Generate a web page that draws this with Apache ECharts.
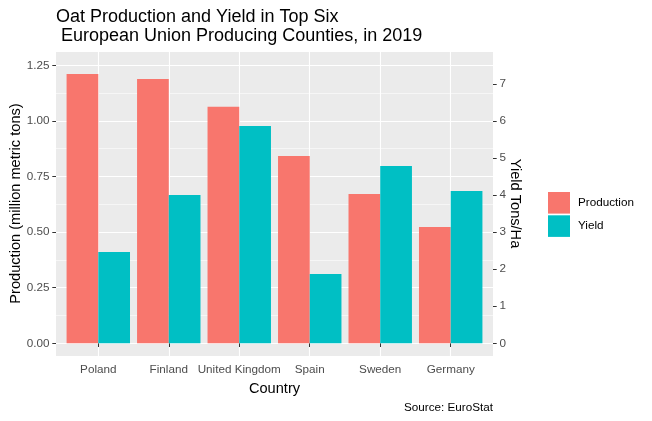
<!DOCTYPE html>
<html>
<head>
<meta charset="utf-8">
<script src="https://cdn.jsdelivr.net/npm/echarts@6/dist/echarts.min.js"></script>
<style>
html,body{margin:0;padding:0;background:#fff;}
#chart{width:652px;height:421px;}
</style>
</head>
<body>
<div id="chart"></div>
<script>
const countries = ['Poland', 'Finland', 'United Kingdom', 'Spain', 'Sweden', 'Germany'];
const production = [1.211, 1.188, 1.064, 0.842, 0.671, 0.523];
const yieldVals = [2.46, 4.00, 5.86, 1.87, 4.78, 4.11];
const prodTicks = [0, 0.25, 0.5, 0.75, 1.0, 1.25];
const yieldTicks = [0, 1, 2, 3, 4, 5, 6, 7];

const FONT = '"Liberation Sans", Arial, sans-serif';
const PANEL = {left: 56, top: 51, width: 437, height: 305};
const PROD_MIN = -0.0571, PROD_MAX = 1.3143;
const RATIO = 6;
const pxPerUnit = PANEL.height / (PROD_MAX - PROD_MIN);
const zeroY = PANEL.top + PROD_MAX * pxPerUnit;
const catUnit = PANEL.width / 6.2;

const hiddenAxisBits = {
  axisLine: {show: false}, axisTick: {show: false},
  axisLabel: {show: false}, splitLine: {show: false}
};

const chart = echarts.init(document.getElementById('chart'), null, {renderer: 'canvas'});
chart.setOption({
  animation: false,
  backgroundColor: '#ffffff',
  title: [
    {
      text: 'Oat Production and Yield in Top Six\n European Union Producing Counties, in 2019',
      left: 56, top: 7, padding: 0,
      textStyle: {fontFamily: FONT, fontSize: 18, fontWeight: 'normal', color: '#000', lineHeight: 19.5}
    },
    {
      text: 'Source: EuroStat',
      right: 652 - 493, top: 402, padding: 0,
      textStyle: {fontFamily: FONT, fontSize: 11.7, fontWeight: 'normal', color: '#000'}
    }
  ],
  legend: {
    orient: 'vertical',
    left: 548, top: 192, padding: 0,
    itemWidth: 22, itemHeight: 21.6, itemGap: 1.7,
    icon: 'rect',
    data: ['Production', 'Yield'],
    textStyle: {fontFamily: FONT, fontSize: 11.7, color: '#000', padding: [0, 0, 0, 3]}
  },
  grid: [
    // panel background + axis titles
    {left: PANEL.left, top: PANEL.top, width: PANEL.width, height: PANEL.height,
     show: true, backgroundColor: '#EBEBEB', borderWidth: 0, containLabel: false},
    // horizontal grid lines + y tick labels
    {left: PANEL.left, top: PANEL.top, width: PANEL.width, height: zeroY - PANEL.top,
     show: false, containLabel: false},
    // bars + category axis
    {left: PANEL.left + 0.1 * catUnit, top: PANEL.top, width: 6 * catUnit, height: PANEL.height,
     show: false, containLabel: false},
    // vertical grid lines at category centres
    {left: PANEL.left + 0.6 * catUnit, top: PANEL.top, width: 5 * catUnit, height: PANEL.height,
     show: false, containLabel: false}
  ],
  xAxis: [
    Object.assign({type: 'value', gridIndex: 0, min: 0, max: 1}, hiddenAxisBits),
    Object.assign({type: 'value', gridIndex: 1, min: 0, max: 1}, hiddenAxisBits),
    {
      type: 'category', gridIndex: 2, data: countries,
      boundaryGap: true,
      name: 'Country', nameLocation: 'middle', nameGap: 25,
      nameTextStyle: {fontFamily: FONT, fontSize: 14.6, color: '#000'},
      axisLine: {show: false},
      axisTick: {show: true, alignWithLabel: true, length: 3.7, lineStyle: {color: '#333333', width: 1}},
      axisLabel: {fontFamily: FONT, fontSize: 11.7, color: '#4D4D4D', margin: 8, interval: 0},
      splitLine: {show: false}
    },
    Object.assign({}, hiddenAxisBits, {
      type: 'category', gridIndex: 3, data: countries, boundaryGap: false,
      splitLine: {show: true, interval: 0, lineStyle: {color: '#ffffff', width: 1.1}}
    })
  ],
  yAxis: [
    Object.assign({}, hiddenAxisBits, {
      type: 'value', gridIndex: 0, position: 'left', min: 0, max: 1,
      name: 'Production (million metric tons)', nameLocation: 'middle', nameGap: 33,
      nameTextStyle: {fontFamily: FONT, fontSize: 14.6, color: '#000'}
    }),
    Object.assign({}, hiddenAxisBits, {
      type: 'value', gridIndex: 0, position: 'right', min: 0, max: 1,
      name: 'Yield Tons/Ha', nameLocation: 'middle', nameGap: 15, nameRotate: -90,
      nameTextStyle: {fontFamily: FONT, fontSize: 14.6, color: '#000'}
    }),
    {
      type: 'value', gridIndex: 1, position: 'left',
      min: prodTicks[0], max: PROD_MAX, interval: 0.25,
      axisLine: {show: false},
      axisTick: {show: true, length: 3.7, lineStyle: {color: '#333333', width: 1}},
      axisLabel: {fontFamily: FONT, fontSize: 11.7, color: '#4D4D4D', margin: 6.6,
        formatter: v => prodTicks.some(t => Math.abs(t - v) < 1e-9) ? v.toFixed(2) : '',
        showMaxLabel: false},
      splitLine: {show: true, lineStyle: {color: '#ffffff', width: 1.1}},
      minorTick: {show: false, splitNumber: 2},
      minorSplitLine: {show: true, lineStyle: {color: '#ffffff', width: 0.55}}
    },
    {
      type: 'value', gridIndex: 1, position: 'right',
      min: yieldTicks[0], max: PROD_MAX * RATIO, interval: 1,
      axisLine: {show: false},
      axisTick: {show: true, length: 3.7, lineStyle: {color: '#333333', width: 1}},
      axisLabel: {fontFamily: FONT, fontSize: 11.7, color: '#4D4D4D', margin: 6.6,
        formatter: v => yieldTicks.indexOf(v) >= 0 ? String(v) : '',
        showMaxLabel: false},
      splitLine: {show: false}
    },
    Object.assign({type: 'value', gridIndex: 2, min: PROD_MIN, max: PROD_MAX}, hiddenAxisBits),
    Object.assign({type: 'value', gridIndex: 2, min: PROD_MIN * RATIO, max: PROD_MAX * RATIO}, hiddenAxisBits),
    Object.assign({type: 'value', gridIndex: 3, min: 0, max: 1}, hiddenAxisBits)
  ],
  series: [
    {
      name: 'Production', type: 'bar', xAxisIndex: 2, yAxisIndex: 4,
      data: production, barCategoryGap: '10%', barGap: '0%',
      itemStyle: {color: '#F8766D'}
    },
    {
      name: 'Yield', type: 'bar', xAxisIndex: 2, yAxisIndex: 5,
      data: yieldVals, barCategoryGap: '10%', barGap: '0%',
      itemStyle: {color: '#00BFC4'}
    }
  ]
});
</script>
</body>
</html>
